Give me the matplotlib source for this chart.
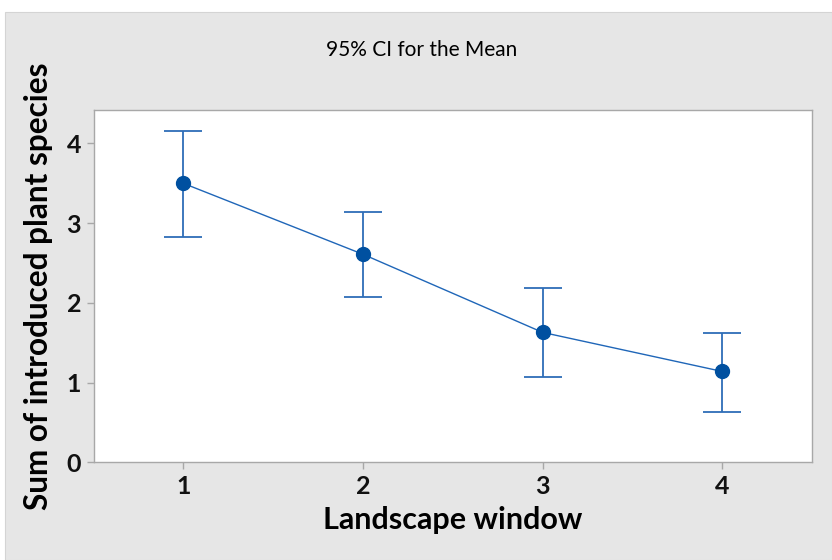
import matplotlib
matplotlib.use("Agg")
import matplotlib.pyplot as plt
from matplotlib.patches import Rectangle

windows = [1, 2, 3, 4]
means = [3.50, 2.61, 1.63, 1.14]
upper = [4.16, 3.14, 2.19, 1.62]
lower = [2.83, 2.07, 1.07, 0.63]

W, H = 832, 560
FONT = "Lato"
fig = plt.figure(figsize=(W/100, H/100), dpi=100)
fig.patch.set_facecolor("white")
fig.patches.append(Rectangle((5/W, 0), 1 - 5/W, (H-12)/H, transform=fig.transFigure,
                             facecolor="#E6E6E6", edgecolor="#D4D4D4", lw=0.8, zorder=-10))

ax = fig.add_axes([93.5/W, 1-462.3/H, (812-93.5)/W, (462.3-110)/H])
ax.set_facecolor("white")

yerr_lo = [m - l for m, l in zip(means, lower)]
yerr_hi = [u - m for m, u in zip(means, upper)]
ax.errorbar(windows, means, yerr=[yerr_lo, yerr_hi], fmt="none", ecolor="#2E6DB8",
            elinewidth=1.3, capsize=14, capthick=1.3, zorder=2)
ax.plot(windows, means, color="#1F66B8", lw=1.0, zorder=3)
ax.plot(windows, means, "o", color="#0050A0", ms=10, zorder=4, mec="#0050A0")

ax.set_xlim(0.5, 4.5)
ax.set_ylim(0, 4.42)
ax.set_xticks(windows)
ax.set_yticks([0, 1, 2, 3, 4])
for s in ax.spines.values():
    s.set_color("#A8A8A8")
    s.set_linewidth(1.0)
ax.tick_params(colors="#A8A8A8", length=5, width=1, labelcolor="black", labelsize=18, pad=4)
for lab in ax.get_xticklabels() + ax.get_yticklabels():
    lab.set_family(FONT)
    lab.set_fontweight("bold")
    lab.set_color("#111111")

ax.set_xlabel("Landscape window", fontsize=22, fontweight="bold", family=FONT, labelpad=6)
ax.set_ylabel("Sum of introduced plant species", fontsize=22.7, fontweight="bold", family=FONT, labelpad=10)
fig.text(422/W, 1-50/H, "95% CI for the Mean", ha="center", va="center", fontsize=15, family=FONT)

fig.savefig("out.png", dpi=100)
